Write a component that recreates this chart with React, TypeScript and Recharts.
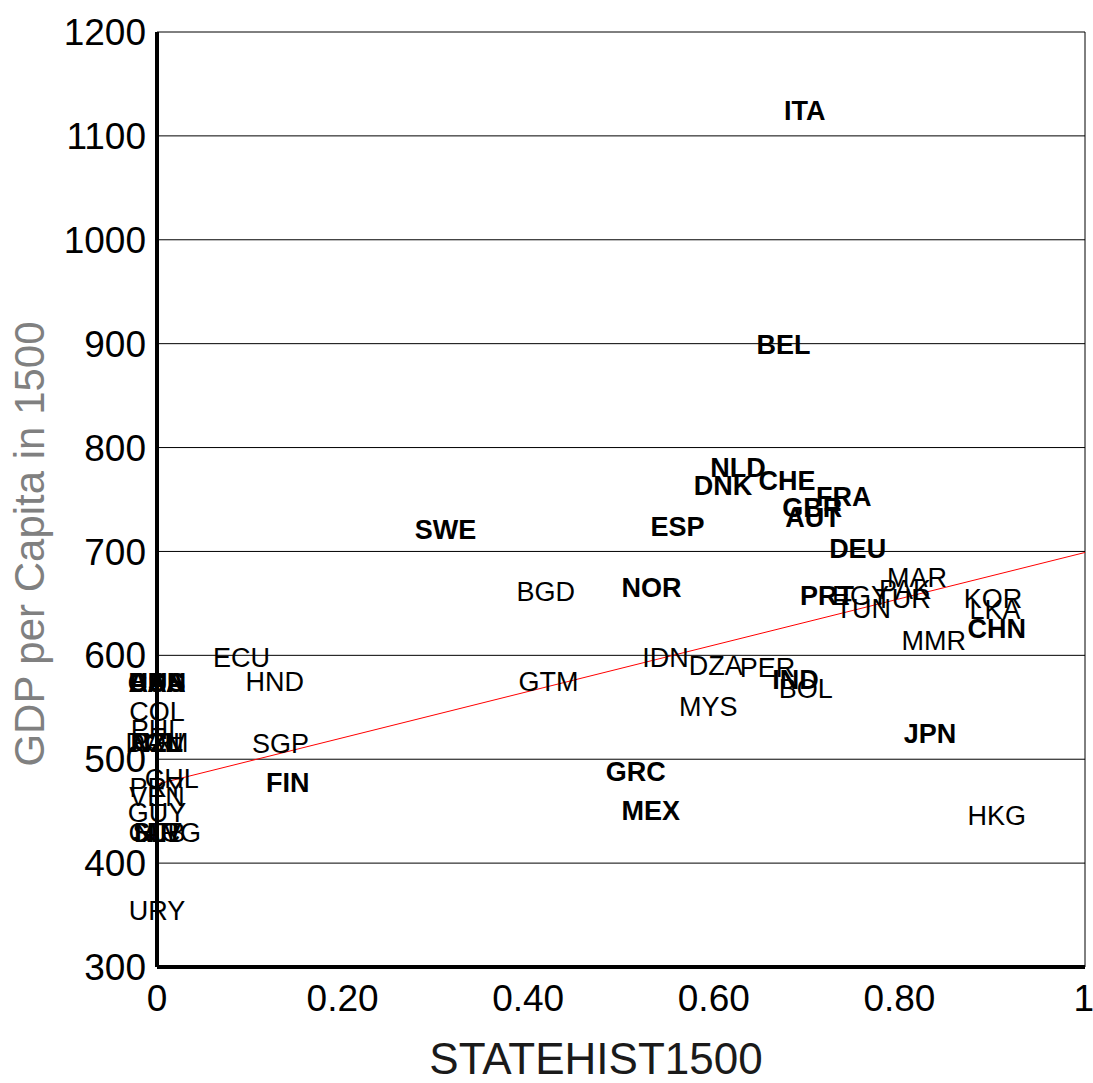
import {
  CartesianGrid,
  ReferenceLine,
  Scatter,
  ScatterChart,
  XAxis,
  YAxis,
} from "recharts";

// country codes, state history index and GDP per capita in 1500
const codes = [
  "ITA", "BEL", "NLD", "DNK", "CHE", "FRA", "GBR", "AUT", "SWE", "ESP",
  "DEU", "NOR", "PRT", "IND", "CHN", "JPN", "GRC", "MEX", "FIN",
  "BGD", "ECU", "HND", "GTM", "SGP", "IDN", "DZA", "PER", "BOL", "MYS",
  "EGY", "TUN", "PAK", "TUR", "MAR", "KOR", "LKA", "MMR", "HKG",
  "BRA", "CAN", "USA", "AUS", "COL", "PHL", "NZL", "DOM", "CRI", "PAN",
  "CHL", "PRY", "VEN", "GUY", "ARG", "SLV", "NIC", "HTI", "CUB", "URY",
];

const stateHist = [
  0.698, 0.675, 0.626, 0.61, 0.679, 0.74, 0.706, 0.707, 0.311, 0.561,
  0.755, 0.533, 0.722, 0.688, 0.905, 0.833, 0.516, 0.532, 0.141,
  0.419, 0.091, 0.127, 0.422, 0.133, 0.548, 0.602, 0.658, 0.699, 0.594,
  0.758, 0.761, 0.806, 0.804, 0.819, 0.901, 0.903, 0.837, 0.905,
  0, 0, 0, 0, 0, 0, 0, 0, 0, 0,
  0.016, 0, 0, 0, 0.016, 0, 0, 0, 0, 0,
];

const gdp1500 = [
  1100, 875, 756, 739, 744, 728, 718, 708, 697, 699,
  678, 641, 633, 552, 601, 500, 464, 426, 453,
  637, 573, 550, 550, 491, 573, 566, 564, 544, 526,
  633, 621, 639, 630, 650, 630, 620, 590, 421,
  549, 549, 549, 549, 521, 504, 492, 492, 492, 492,
  457, 448, 440, 424, 405, 405, 405, 405, 405, 330,
];

const boldCodes = [
  "ITA", "BEL", "NLD", "DNK", "CHE", "FRA", "GBR", "AUT", "SWE", "ESP",
  "DEU", "NOR", "PRT", "IND", "CHN", "JPN", "GRC", "MEX", "FIN",
  "CAN", "USA", "AUS", "NZL",
];

const xTicks = [0, 0.2, 0.4, 0.6, 0.8, 1];
const yTicks = [300, 400, 500, 600, 700, 800, 900, 1000, 1100, 1200];

// fitted line, value at x = 0 and x = 1
const fitStart = 476;
const fitEnd = 699;

const points = codes.map((code, i) => ({
  code,
  x: stateHist[i],
  y: gdp1500[i],
  bold: boldCodes.includes(code),
}));

const font = "'Liberation Sans', Arial, sans-serif";

const CodeLabel = (props: any) => {
  const { cx, cy, payload } = props;
  return (
    <text
      x={cx}
      y={cy - 16}
      textAnchor="middle"
      fontSize={27}
      fontFamily={font}
      fontWeight={payload.bold ? 700 : 400}
      fill="#000"
    >
      {payload.code}
    </text>
  );
};

const fmtX = (v: number) => (v === 0 || v === 1 ? String(v) : v.toFixed(2));

const App = () => {
  return (
    <div>
      <style>{"body{margin:0}"}</style>
      <ScatterChart
        width={1093}
        height={1083}
        margin={{ top: 32, right: 8, left: 8, bottom: 16 }}
        style={{ fontFamily: font }}
      >
        <CartesianGrid vertical={false} stroke="#000" strokeWidth={1} />
        <ReferenceLine x={1} stroke="#000" strokeWidth={1} />
        <XAxis
          type="number"
          dataKey="x"
          domain={[0, 1]}
          ticks={xTicks}
          tickFormatter={fmtX}
          height={100}
          axisLine={{ stroke: "#000", strokeWidth: 4 }}
          tickLine={false}
          tickSize={0}
          tickMargin={18}
          tick={{ fontSize: 37, fill: "#000" }}
          label={{
            content: (p: any) => {
              const vb = p.viewBox;
              return (
                <text
                  x={vb.x + vb.width / 2 - 25}
                  y={vb.y + 107}
                  textAnchor="middle"
                  fontSize={44}
                  fontFamily={font}
                  fill="#1a1a1a"
                >
                  STATEHIST1500
                </text>
              );
            },
          }}
        />
        <YAxis
          type="number"
          dataKey="y"
          domain={[300, 1200]}
          ticks={yTicks}
          width={149}
          axisLine={{ stroke: "#000", strokeWidth: 4 }}
          tickLine={false}
          tickSize={0}
          tickMargin={11}
          tick={{ fontSize: 37, fill: "#000" }}
          label={{
            content: (p: any) => {
              const vb = p.viewBox;
              const tx = vb.x + 36;
              const ty = 544;
              return (
                <text
                  x={tx}
                  y={ty}
                  transform={`rotate(-90, ${tx}, ${ty})`}
                  textAnchor="middle"
                  fontSize={42}
                  fontFamily={font}
                  fill="#808080"
                >
                  GDP per Capita in 1500
                </text>
              );
            },
          }}
        />
        <ReferenceLine
          segment={[
            { x: 0, y: fitStart },
            { x: 1, y: fitEnd },
          ]}
          stroke="#ff0000"
          strokeWidth={1}
        />
        <Scatter data={points} shape={CodeLabel} isAnimationActive={false} />
      </ScatterChart>
    </div>
  );
};

export default App;
